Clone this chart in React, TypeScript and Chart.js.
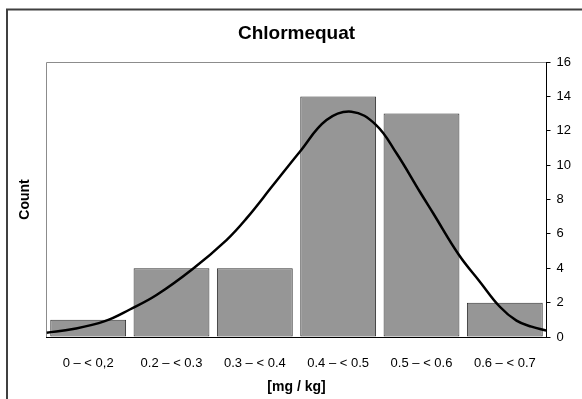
import React, { useEffect, useRef } from 'react';
import { Chart, registerables } from 'chart.js';

Chart.register(...registerables);

// ---- data ----
const categories = ['0 – < 0,2', '0.2 – < 0.3', '0.3 – < 0.4', '0.4 – < 0.5', '0.5 – < 0.6', '0.6 – < 0.7'];
const counts = [1, 4, 4, 14, 13, 2];
// fitted distribution curve, x in category units (0 = left edge of plot, 6 = right edge)
const curveX = [0, 0.32, 0.7, 1.0, 1.32, 1.75, 2.16, 2.4, 2.72, 3.04, 3.36, 3.66, 3.95, 4.2, 4.48, 4.64, 4.95, 5.2, 5.44, 5.64, 5.82, 6.0];
const curveY = [0.25, 0.46, 0.92, 1.6, 2.44, 3.94, 5.64, 6.9, 8.84, 10.78, 12.62, 13.11, 12.36, 10.69, 8.45, 7.2, 4.77, 3.22, 1.76, 0.95, 0.6, 0.37];
const yMin = 0;
const yMax = 16;
const yStep = 2;
const chartTitle = 'Chlormequat';
const xTitle = '[mg / kg]';
const yTitle = 'Count';

const FONT = "'Liberation Sans', Arial, Helvetica, sans-serif";

const framePlugin = {
  id: 'frame',
  beforeDraw(chart: any) {
    const { ctx, chartArea } = chart;
    const { left, top, right, bottom } = chartArea;
    ctx.save();
    ctx.fillStyle = '#ffffff';
    ctx.fillRect(0, 0, chart.width, chart.height);
    // outer frame
    ctx.strokeStyle = '#404040';
    ctx.lineWidth = 2;
    ctx.beginPath();
    ctx.moveTo(7, chart.height + 5);
    ctx.lineTo(7, 9.5);
    ctx.lineTo(chart.width + 5, 9.5);
    ctx.stroke();
    // plot area border (gray)
    ctx.strokeStyle = '#8c8c8c';
    ctx.lineWidth = 1;
    ctx.beginPath();
    ctx.moveTo(left, bottom);
    ctx.lineTo(left, Math.round(top) + 0.5);
    ctx.lineTo(right, Math.round(top) + 0.5);
    ctx.stroke();
    ctx.restore();
  },
};

export default function App() {
  const ref = useRef<HTMLCanvasElement | null>(null);

  useEffect(() => {
    if (!ref.current) return;
    const chart = new Chart(ref.current, {
      type: 'bar',
      data: {
        labels: categories,
        datasets: [
          {
            type: 'line',
            data: curveX.map((x, i) => ({ x, y: curveY[i] })),
            xAxisID: 'x2',
            yAxisID: 'y',
            borderColor: '#000000',
            borderWidth: 2.5,
            pointRadius: 0,
            tension: 0.4,
            fill: false,
            order: 0,
          } as any,
          {
            type: 'bar',
            data: counts,
            xAxisID: 'x',
            yAxisID: 'y',
            backgroundColor: '#969696',
            borderColor: '#333333',
            borderWidth: 1,
            borderSkipped: false,
            grouped: false,
            barPercentage: 0.91,
            categoryPercentage: 1,
            order: 1,
          } as any,
        ],
      },
      options: {
        responsive: false,
        animation: false,
        layout: { padding: 0 },
        plugins: {
          legend: { display: false },
          tooltip: { enabled: false },
          title: {
            display: true,
            text: chartTitle,
            fullSize: false,
            color: '#000',
            font: { family: FONT, size: 19, weight: 'bold' },
            padding: { top: 21.9, bottom: 17.3 },
          },
        },
        scales: {
          x: {
            type: 'category',
            position: 'bottom',
            offset: true,
            grid: { display: false },
            border: { display: true, color: '#000', width: 1 },
            ticks: {
              color: '#000',
              font: { family: FONT, size: 13 },
              padding: 11,
              maxRotation: 0,
              autoSkip: false,
            },
            title: {
              display: true,
              text: xTitle,
              color: '#000',
              font: { family: FONT, size: 14, weight: 'bold' },
              padding: { top: 0, bottom: 3.3 },
            },
            afterFit: (s: any) => {
              s.height = 62;
            },
          },
          x2: {
            type: 'linear',
            position: 'bottom',
            display: false,
            offset: false,
            grid: { offset: false },
            min: 0,
            max: categories.length,
          },
          y: {
            type: 'linear',
            position: 'right',
            min: yMin,
            max: yMax,
            grid: {
              drawOnChartArea: false,
              drawTicks: true,
              tickLength: 4,
              color: '#000',
            },
            border: { display: true, color: '#000', width: 1 },
            ticks: {
              stepSize: yStep,
              color: '#000',
              font: { family: FONT, size: 13 },
              padding: 6,
            },
            afterFit: (s: any) => {
              s.width = 35.5;
            },
          },
          yL: {
            type: 'linear',
            position: 'left',
            display: true,
            grid: { display: false },
            border: { display: false },
            ticks: { display: false },
            title: {
              display: true,
              text: yTitle,
              color: '#000',
              font: { family: FONT, size: 14, weight: 'bold' },
              padding: { top: 16.6, bottom: 0 },
            },
            afterFit: (s: any) => {
              s.width = 46.5;
            },
          },
        },
      },
      plugins: [framePlugin],
    });
    return () => chart.destroy();
  }, []);

  return (
    <div style={{ position: 'absolute', left: 0, top: 0, width: 582, height: 399 }}>
      <canvas ref={ref} width={582} height={399} style={{ display: 'block' }} />
    </div>
  );
}
